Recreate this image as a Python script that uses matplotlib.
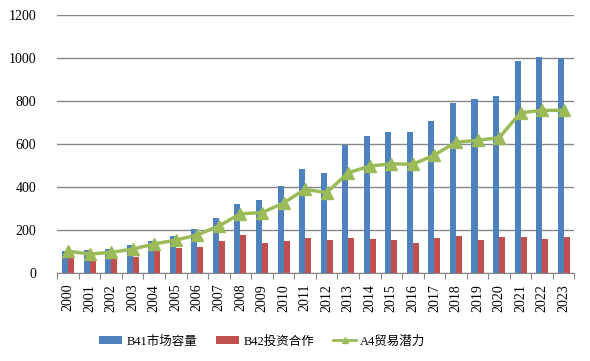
import matplotlib.pyplot as plt
from matplotlib.lines import Line2D
import numpy as np

years = [str(y) for y in range(2000, 2024)]
market = [102, 105, 112, 130, 148, 172, 205, 253, 320, 340, 402, 483,
          463, 594, 637, 656, 656, 709, 790, 810, 824, 985, 1006, 1001]
invest = [85, 58, 72, 75, 109, 114, 118, 146, 174, 137, 146, 160,
          151, 160, 156, 151, 140, 160, 170, 151, 165, 165, 156, 165]
trade = [100, 87, 95, 110, 134, 152, 176, 218, 275, 280, 325, 389,
         373, 466, 497, 508, 505, 549, 608, 617, 629, 746, 757, 757]

fam = ['Liberation Serif', 'Noto Sans CJK SC']
plt.rcParams['font.family'] = fam
plt.rcParams['font.size'] = 10

fig = plt.figure(figsize=(5.9, 3.61), dpi=100)
ax = fig.add_axes([0.0971, 0.2446, 0.8766, 0.713])

x = np.arange(len(years))
w = 0.28
b1 = ax.bar(x - w / 2, market, w, color='#4F81BD', label='B41市场容量', zorder=2)
b2 = ax.bar(x + w / 2, invest, w, color='#C0504D', label='B42投资合作', zorder=2)
ax.plot(x, trade, color='#9BBB59', lw=2.5, marker='^', ms=8, zorder=3)
ln = Line2D([], [], color='#9BBB59', lw=2, marker='^', ms=5, label='A4贸易潜力')

ax.set_xlim(-0.5, len(years) - 0.5)
ax.set_ylim(0, 1200)
ax.set_yticks(range(0, 1201, 200))
ax.yaxis.grid(True, color='#868686', lw=1)
ax.set_axisbelow(True)
for s in ['top', 'right', 'left']:
    ax.spines[s].set_visible(False)
ax.spines['bottom'].set_color('#868686')
ax.tick_params(axis='y', length=0, pad=15)
ax.set_xticks(np.arange(-0.5, len(years), 1), minor=False)
ax.set_xticklabels([])
ax.set_xticks(x, minor=True)
ax.set_xticklabels(years, minor=True, rotation=90)
ax.tick_params(axis='x', which='major', length=4, color='#868686', direction='out')
ax.tick_params(axis='x', which='minor', length=0, pad=8)

ax.legend(handles=[b1, b2, ln], loc='upper center', bbox_to_anchor=(0.396, -0.2),
          ncol=3, frameon=False, handlelength=1.9, handleheight=0.6,
          handletextpad=0.3, columnspacing=1.5, prop={'family': fam, 'size': 9})

fig.savefig('out.png', dpi=100)
